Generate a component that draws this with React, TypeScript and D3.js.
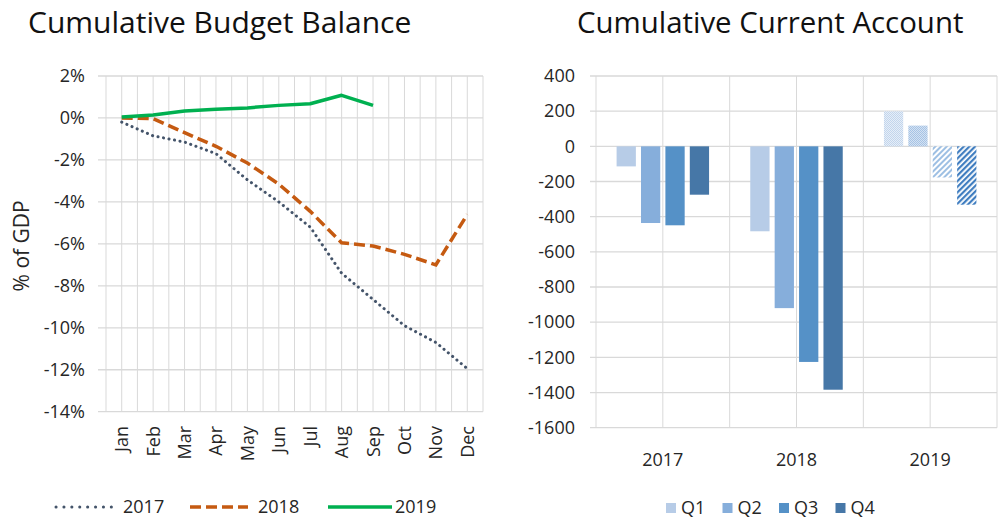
import React from "react";
import * as d3 from "d3";

const months = ["Jan","Feb","Mar","Apr","May","Jun","Jul","Aug","Sep","Oct","Nov","Dec"];
const budget2017 = [-0.2,-0.85,-1.15,-1.7,-2.95,-4.0,-5.2,-7.4,-8.65,-9.9,-10.7,-11.95];
const budget2018 = [0.0,-0.03,-0.7,-1.35,-2.15,-3.15,-4.45,-5.95,-6.1,-6.5,-7.0,-4.6];
const budget2019 = [0.05,0.14,0.33,0.41,0.48,0.6,0.68,1.08,0.6];
const budgetTicks = [2,0,-2,-4,-6,-8,-10,-12,-14];

const years = ["2017","2018","2019"];
const quarters = ["Q1","Q2","Q3","Q4"];
const ca2017 = [-114,-436,-449,-275];
const ca2018 = [-483,-920,-1226,-1384];
const ca2019 = [199,118,-177,-332];
const caTicks = [400,200,0,-200,-400,-600,-800,-1000,-1200,-1400,-1600];

const qColors = ["#B7CCE7","#86AEDB","#5591C7","#4677A7"];
const FONT = "'Open Sans', 'Noto Sans', sans-serif";
const GRID = "#D9D9D9";
const TXT = "#262626";

export default function App() {
  // Left chart
  const lx0 = 106, lx1 = 483, ly0 = 76, ly1 = 411.7;
  const xm = d3.scaleBand<string>().domain(months).range([lx0, lx1]);
  const cx = (m: string) => (xm(m) as number) + xm.bandwidth() / 2;
  const yb = d3.scaleLinear().domain([-14, 2]).range([ly1, ly0]);
  const line = d3.line<number>().x((_, i) => cx(months[i])).y((d) => yb(d));
  const vLeft = d3.range(0, 25).map((k) => lx0 + (k * xm.bandwidth()) / 2);

  // Right chart
  const rx0 = 596, rx1 = 997, ry0 = 76, ry1 = 427.7;
  const xy = d3.scaleBand<string>().domain(years).range([rx0, rx1]);
  const ycy = (y: string) => (xy(y) as number) + xy.bandwidth() / 2;
  const yc = d3.scaleLinear().domain([-1600, 400]).range([ry1, ry0]);
  const xq = d3.scaleBand<string>().domain(quarters).range([-48.8, 48.8]).paddingInner(0.21).paddingOuter(0.105);
  const vRight = d3.range(0, 7).map((k) => rx0 + (k * xy.bandwidth()) / 2);
  const caData: Record<string, number[]> = { "2017": ca2017, "2018": ca2018, "2019": ca2019 };
  const fill2019 = ["url(#dotLight)", "url(#dotMed)", "url(#stripeLight)", "url(#stripeDark)"];

  return (
    <svg width={998} height={520} style={{ position: "absolute", left: 0, top: 0, background: "#fff" }} fontFamily={FONT}>
      <defs>
        <pattern id="dotLight" width={2} height={2} patternUnits="userSpaceOnUse">
          <rect width={2} height={2} fill="#E6EEF8" />
          <rect width={1} height={1} fill="#C2D5EC" />
          <rect x={1} y={1} width={1} height={1} fill="#C2D5EC" />
        </pattern>
        <pattern id="dotMed" width={2} height={2} patternUnits="userSpaceOnUse">
          <rect width={2} height={2} fill="#D4E2F2" />
          <rect width={1} height={1} fill="#A6C3E5" />
          <rect x={1} y={1} width={1} height={1} fill="#A6C3E5" />
        </pattern>
        <pattern id="stripeLight" width={4} height={4} patternUnits="userSpaceOnUse" patternTransform="rotate(45)">
          <rect width={4} height={4} fill="#ffffff" />
          <rect width={2} height={4} fill="#9DBFE3" />
        </pattern>
        <pattern id="stripeDark" width={4} height={4} patternUnits="userSpaceOnUse" patternTransform="rotate(45)">
          <rect width={4} height={4} fill="#ffffff" />
          <rect width={2.2} height={4} fill="#3F7DC0" />
        </pattern>
      </defs>
      <rect width={998} height={520} fill="#fff" />

      {/* ===== Left chart ===== */}
      <text x={28} y={33} fontSize={30} fill="#111">Cumulative Budget Balance</text>
      {vLeft.map((x, i) => (
        <line key={"vl" + i} x1={x} x2={x} y1={ly0} y2={ly1} stroke={GRID} strokeWidth={1} />
      ))}
      {budgetTicks.map((t) => (
        <g key={"bt" + t}>
          <line x1={98} x2={lx1} y1={yb(t)} y2={yb(t)} stroke={GRID} strokeWidth={1.3} />
          <text x={85} y={yb(t)} dy="0.35em" textAnchor="end" fontSize={18} fill={TXT}>{t + "%"}</text>
        </g>
      ))}
      <text transform={`translate(29,${(ly0 + ly1) / 2 + 2}) rotate(-90)`} textAnchor="middle" fontSize={21} fill={TXT}>% of GDP</text>
      {months.map((m) => (
        <text key={m} transform={`translate(${cx(m)},426) rotate(-90)`} dy="0.36em" textAnchor="end" fontSize={18} fill={TXT}>{m}</text>
      ))}
      <path d={line(budget2017) || ""} fill="none" stroke="#44546A" strokeWidth={3} strokeLinecap="round" strokeDasharray="0.1 5.5" />
      <path d={line(budget2018) || ""} fill="none" stroke="#C55A11" strokeWidth={3.5} strokeDasharray="11 5" />
      <path d={line(budget2019) || ""} fill="none" stroke="#00B050" strokeWidth={3.5} strokeLinejoin="round" />

      {/* left legend */}
      <line x1={56} x2={112} y1={507} y2={507} stroke="#44546A" strokeWidth={3} strokeLinecap="round" strokeDasharray="0.1 7.8" />
      <text x={123} y={507} dy="0.35em" fontSize={18} fill={TXT}>2017</text>
      <line x1={190} x2={248} y1={507} y2={507} stroke="#C55A11" strokeWidth={3.5} strokeDasharray="11 5" />
      <text x={258} y={507} dy="0.35em" fontSize={18} fill={TXT}>2018</text>
      <line x1={328} x2={392} y1={507} y2={507} stroke="#00B050" strokeWidth={3.5} />
      <text x={395} y={507} dy="0.35em" fontSize={18} fill={TXT}>2019</text>

      {/* ===== Right chart ===== */}
      <text x={577} y={33} fontSize={29.4} fill="#111">Cumulative Current Account</text>
      {vRight.map((x, i) => (
        <line key={"vr" + i} x1={x} x2={x} y1={ry0} y2={ry1} stroke={GRID} strokeWidth={1} />
      ))}
      {caTicks.map((t) => (
        <g key={"ct" + t}>
          <line x1={590} x2={rx1} y1={yc(t)} y2={yc(t)} stroke={GRID} strokeWidth={1.3} />
          <text x={575} y={yc(t)} dy="0.35em" textAnchor="end" fontSize={18} fill={TXT}>{t}</text>
        </g>
      ))}
      {years.map((y) => (
        <g key={y}>
          {caData[y].map((v, qi) => {
            const q = quarters[qi];
            const x = ycy(y) + (xq(q) as number);
            const y0 = yc(Math.max(0, v));
            const h = Math.abs(yc(v) - yc(0));
            return (
              <rect key={q} x={x} y={y0} width={xq.bandwidth()} height={h}
                fill={y === "2019" ? fill2019[qi] : qColors[qi]} />
            );
          })}
          <text x={ycy(y)} y={460} dy="0.35em" textAnchor="middle" fontSize={18} fill={TXT}>{y}</text>
        </g>
      ))}

      {/* right legend */}
      {quarters.map((q, i) => (
        <g key={"lg" + q}>
          <rect x={666 + i * 56.5} y={503} width={10} height={10} fill={qColors[i]} />
          <text x={681 + i * 56.5} y={508} dy="0.35em" fontSize={18} fill={TXT}>{q}</text>
        </g>
      ))}
    </svg>
  );
}
